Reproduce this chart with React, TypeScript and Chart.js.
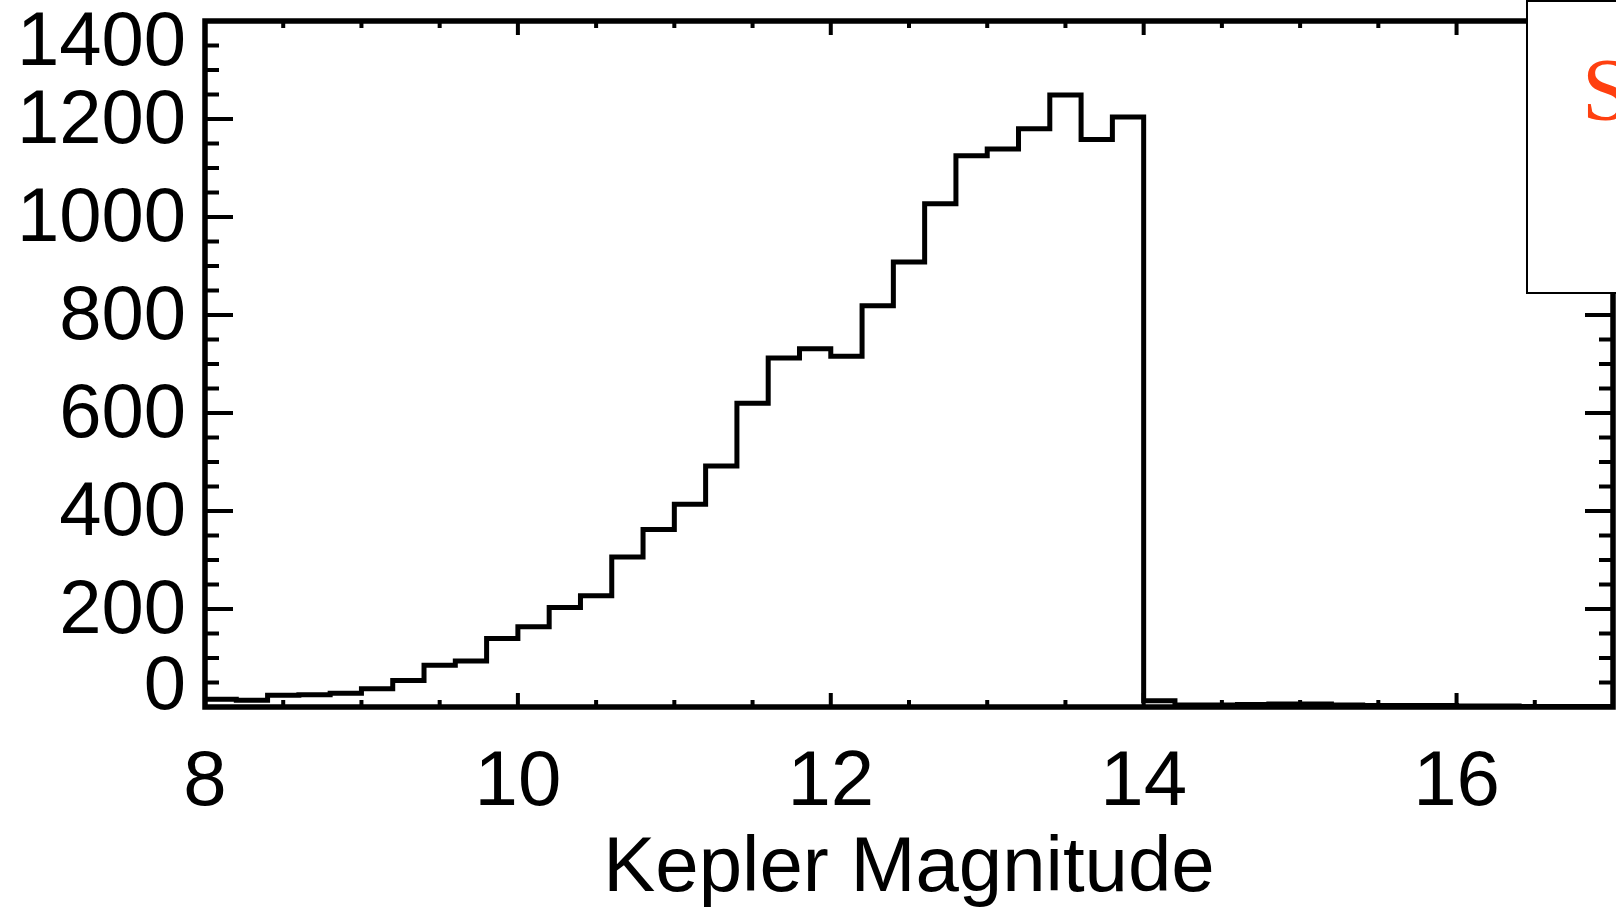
import React, { useEffect, useRef } from "react";
import { Chart, registerables } from "chart.js";

Chart.register(...registerables);

// Bin edges of the histogram (Kepler magnitude)
const binEdges = [
  8.0, 8.2, 8.4, 8.6, 8.8, 9.0, 9.2, 9.4, 9.6, 9.8,
  10.0, 10.2, 10.4, 10.6, 10.8, 11.0, 11.2, 11.4, 11.6, 11.8,
  12.0, 12.2, 12.4, 12.6, 12.8, 13.0, 13.2, 13.4, 13.6, 13.8,
  14.0, 14.2, 14.4, 14.6, 14.8, 15.0, 15.2, 15.4, 15.6, 15.8,
  16.0, 16.2, 16.4, 16.6, 16.8, 17.0,
];

// Counts per bin (one fewer than edges)
const counts = [
  16, 14, 24, 25, 28, 37, 54, 85, 94, 140,
  164, 203, 227, 306, 362, 414, 492, 620, 712, 731,
  716, 819, 908, 1027, 1125, 1139, 1180, 1249, 1158, 1204,
  13, 4, 4, 5, 6, 6, 4, 3, 3, 3,
  2, 2, 1, 1, 1,
];

const xTickValues = [8, 10, 12, 14, 16];
const yTickValues = [0, 200, 400, 600, 800, 1000, 1200, 1400];
const xMinorStep = 0.5;
const yMinorStep = 50;
const xAxisTitle = "Kepler Magnitude";
const legendText = "S";

const FONT = '"Liberation Sans", Arial, Helvetica, sans-serif';

const framePlugin = {
  id: "idlFrame",
  afterDatasetsDraw(chart: any) {
    const { ctx, chartArea } = chart;
    const { left, right, top, bottom } = chartArea;
    const xs = chart.scales.x;
    const ys = chart.scales.y;
    ctx.save();
    ctx.strokeStyle = "#000";
    ctx.lineCap = "butt";

    // ticks on x (bottom & top), pointing inward
    ctx.lineWidth = 4;
    for (let v = xs.min + xMinorStep; v < xs.max - 1e-6; v += xMinorStep) {
      const px = xs.getPixelForValue(v);
      const major = Math.abs(v / 2 - Math.round(v / 2)) < 1e-6;
      const len = major ? 14 : 7;
      ctx.beginPath();
      ctx.moveTo(px, bottom);
      ctx.lineTo(px, bottom - len);
      ctx.moveTo(px, top);
      ctx.lineTo(px, top + len);
      ctx.stroke();
    }
    // ticks on y (left & right), pointing inward
    for (let v = ys.min + yMinorStep; v < ys.max - 1e-6; v += yMinorStep) {
      const py = ys.getPixelForValue(v);
      const major = v % 200 === 0;
      const len = major ? 28 : 14;
      ctx.beginPath();
      ctx.moveTo(left, py);
      ctx.lineTo(left + len, py);
      ctx.moveTo(right, py);
      ctx.lineTo(right - len, py);
      ctx.stroke();
    }

    // frame
    ctx.lineWidth = 5.5;
    ctx.strokeRect(left, top, right - left, bottom - top);

    // y tick labels (IDL style: end labels kept inside the axis span)
    ctx.fillStyle = "#000";
    ctx.font = `76px ${FONT}`;
    ctx.textAlign = "right";
    ctx.textBaseline = "middle";
    for (const v of yTickValues) {
      let py = ys.getPixelForValue(v) + 3;
      py = Math.min(Math.max(py, top + 23), bottom - 19);
      ctx.fillText(String(v), 186, py);
    }

    // legend box (partly outside the picture)
    ctx.fillStyle = "#fff";
    ctx.fillRect(1527, 1, 200, 292);
    ctx.lineWidth = 2;
    ctx.strokeRect(1527, 1, 200, 292);
    ctx.fillStyle = "#FF4010";
    ctx.font = '88px "Liberation Serif", "Times New Roman", serif';
    ctx.textAlign = "left";
    ctx.textBaseline = "alphabetic";
    ctx.fillText(legendText, 1582, 119);
    ctx.restore();
  },
};

export default function App() {
  const ref = useRef<HTMLCanvasElement | null>(null);

  useEffect(() => {
    const canvas = ref.current;
    if (!canvas) return;
    // stepped "before": the segment ending at edge i is drawn at the value of point i-1,
    // so point i carries the count of the bin starting at edge i.
    const points = binEdges.map((x, i) => ({
      x,
      y: i < counts.length ? counts[i] : counts[counts.length - 1],
    }));
    const chart = new Chart(canvas, {
      type: "line",
      data: {
        datasets: [
          {
            data: points,
            stepped: "before",
            borderColor: "#000",
            borderWidth: 5,
            pointRadius: 0,
            fill: false,
            tension: 0,
          },
        ],
      },
      options: {
        animation: false,
        responsive: false,
        maintainAspectRatio: false,
        layout: { padding: { top: 21, right: 3, left: 0, bottom: 0 } },
        plugins: {
          legend: { display: false },
          tooltip: { enabled: false },
        },
        scales: {
          x: {
            type: "linear",
            min: 8,
            max: 17,
            afterBuildTicks: (s: any) => {
              s.ticks = xTickValues.map((v) => ({ value: v }));
            },
            grid: { display: false, drawTicks: false },
            border: { display: false },
            ticks: {
              color: "#000",
              font: { family: FONT, size: 78 },
              padding: 30,
              maxRotation: 0,
              autoSkip: false,
            },
            title: {
              display: true,
              text: xAxisTitle,
              color: "#000",
              font: { family: FONT, size: 78, lineHeight: 1.0 },
              padding: { top: 0, bottom: 0 },
            },
            afterFit: (s: any) => {
              s.height = 201;
            },
          },
          y: {
            type: "linear",
            min: 0,
            max: 1400,
            afterBuildTicks: (s: any) => {
              s.ticks = yTickValues.map((v) => ({ value: v }));
            },
            grid: { display: false, drawTicks: false },
            border: { display: false },
            ticks: { display: false },
            afterFit: (s: any) => {
              s.width = 205;
            },
          },
        },
      },
      plugins: [framePlugin],
    } as any);
    return () => chart.destroy();
  }, []);

  return (
    <div style={{ position: "fixed", left: 0, top: 0, width: 1616, height: 908, background: "#fff" }}>
      <canvas ref={ref} width={1616} height={908} style={{ display: "block" }} />
    </div>
  );
}
